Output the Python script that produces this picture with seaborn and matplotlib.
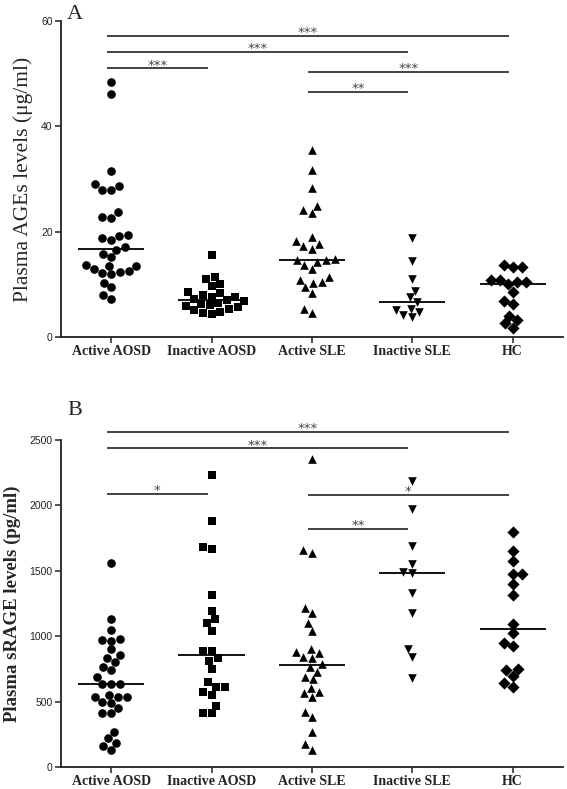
import numpy as np
import pandas as pd
import matplotlib
matplotlib.use("Agg")
import matplotlib.pyplot as plt
import seaborn as sns

sns.set_theme(style="ticks")
plt.rcParams["font.family"] = ["Liberation Serif", "DejaVu Serif"]

categories = ["Active AOSD", "Inactive AOSD", "Active SLE", "Inactive SLE", "HC"]
markers = ["o", "s", "^", "v", "D"]

# Panel A: Plasma AGEs (ug/ml)
ages_active_aosd = [48.5, 46.1, 31.5, 28.6, 27.9, 28.0, 29.0, 22.8, 22.6, 23.7,
                    19.2, 18.5, 18.7, 19.4, 17.0, 16.6, 15.8, 15.2, 13.0, 12.4,
                    13.4, 11.9, 13.5, 12.2, 13.6, 12.5, 10.3, 9.4, 7.3, 7.9]
ages_inactive_aosd = [15.6, 11.3, 11.0, 10.0, 9.7, 8.6, 8.3, 8.0, 7.6, 7.6, 7.3, 7.1,
                      6.8, 6.5, 6.3, 6.0, 5.8, 5.6, 5.4, 5.1, 4.8, 4.6, 4.4]
ages_active_sle = [35.5, 31.8, 28.2, 24.9, 24.2, 23.6, 19.0, 18.2, 17.7, 17.3, 16.8,
                   14.9, 14.7, 14.7, 14.2, 13.7, 12.9, 11.3, 10.8, 10.4, 10.2, 9.4,
                   8.4, 5.4, 4.6]
ages_inactive_sle = [18.7, 14.5, 11.1, 8.8, 7.5, 6.6, 5.4, 5.1, 4.7, 4.1, 3.7]
ages_hc = [13.6, 13.2, 13.2, 10.8, 10.8, 10.5, 10.5, 10.0, 8.6, 6.8, 6.2, 4.0, 3.2, 2.6, 1.8]

# Panel B: Plasma sRAGE (pg/ml)
srage_active_aosd = [1562, 1131, 1047, 976, 971, 966, 900, 856, 831, 800, 762, 742,
                     690, 634, 634, 634, 550, 537, 533, 533, 499, 487, 449, 410,
                     410, 270, 219, 186, 161, 130]
srage_inactive_aosd = [2232, 1883, 1680, 1664, 1315, 1193, 1129, 1099, 1042, 889, 889,
                       831, 813, 749, 648, 614, 609, 571, 550, 466, 410, 410]
srage_active_sle = [2352, 1659, 1638, 1218, 1175, 1099, 1040, 900, 882, 874, 843, 831,
                    785, 767, 729, 686, 670, 606, 576, 568, 537, 423, 385, 270, 176, 130]
srage_inactive_sle = [2189, 1972, 1690, 1550, 1493, 1481, 1328, 1175, 900, 843, 683]
srage_hc = [1799, 1654, 1577, 1476, 1476, 1399, 1315, 1091, 1022, 946, 925, 747, 742,
            696, 640, 614]

# significance comparisons: (group i, group j, height, label)
comparisons_a = [(0, 4, 57.2, "***"), (0, 3, 54.2, "***"), (0, 1, 51.0, "***"),
                 (2, 4, 50.3, "***"), (2, 3, 46.5, "**")]
comparisons_b = [(0, 4, 2563, "***"), (0, 3, 2437, "***"), (0, 1, 2087, "*"),
                 (2, 4, 2080, "*"), (2, 3, 1820, "**")]

groups_a = [ages_active_aosd, ages_inactive_aosd, ages_active_sle, ages_inactive_sle, ages_hc]
groups_b = [srage_active_aosd, srage_inactive_aosd, srage_active_sle, srage_inactive_sle, srage_hc]


def make_df(groups):
    rows = []
    for cat, vals in zip(categories, groups):
        for v in vals:
            rows.append((cat, v))
    return pd.DataFrame(rows, columns=["group", "value"])


fig = plt.figure(figsize=(5.67, 7.89), dpi=100)
axA = fig.add_axes([0.1076, 0.5729, 0.885, 0.4005])
axB = fig.add_axes([0.1076, 0.0279, 0.885, 0.4144])


def draw(ax, groups, comps, ylim, yticks, ylabel, label_bold, letter, dy, letter_y):
    df = make_df(groups)
    for cat, m in zip(categories, markers):
        sub = df[df["group"] == cat]
        sns.swarmplot(data=sub, x="group", y="value", order=categories, ax=ax,
                      marker=m, color="black", size=6.2, linewidth=0)
    sns.boxplot(data=df, x="group", y="value", order=categories, ax=ax,
                width=0.66, showbox=False, showcaps=False, showfliers=False,
                whiskerprops={"visible": False},
                medianprops={"color": "black", "linewidth": 1.3}, zorder=5)
    ax.set_xlim(-0.5, 4.5)
    ax.set_ylim(*ylim)
    ax.set_yticks(yticks)
    ax.set_yticklabels([str(t) for t in yticks], fontfamily="Liberation Sans", fontsize=7.5)
    ax.set_xticks(range(len(categories)))
    ax.set_xticklabels(categories, fontweight="bold", fontsize=10)
    ax.set_xlabel("")
    ax.set_ylabel(ylabel, fontsize=15.5 if not label_bold else 13.5,
                  fontweight="bold" if label_bold else "normal", labelpad=6)
    for s in ["top", "right"]:
        ax.spines[s].set_visible(False)
    for s in ["left", "bottom"]:
        ax.spines[s].set_linewidth(1.3)
        ax.spines[s].set_color("#222222")
    ax.tick_params(axis="both", direction="out", length=4, width=1.1, colors="#222222", pad=2)
    for (i, j, h, lab) in comps:
        ax.plot([i - 0.04, j - 0.04], [h, h], color="#222222", lw=1.2,
                solid_capstyle="butt", clip_on=False)
        ax.text((i + j) / 2 - 0.04, h + dy, lab, ha="center", va="bottom",
                fontsize=9.5, color="#444444", fontfamily="DejaVu Sans")
    ax.text(0.012, letter_y, letter, transform=ax.transAxes, fontsize=16,
            ha="left", va="bottom")


draw(axA, groups_a, comparisons_a, (0, 60), [0, 20, 40, 60],
     "Plasma AGEs levels (\u03bcg/ml)", False, "A", -0.6, 0.99)
draw(axB, groups_b, comparisons_b, (0, 2500), [0, 500, 1000, 1500, 2000, 2500],
     "Plasma sRAGE levels (pg/ml)", True, "B", -25, 1.06)

fig.savefig("out.png", dpi=100)
